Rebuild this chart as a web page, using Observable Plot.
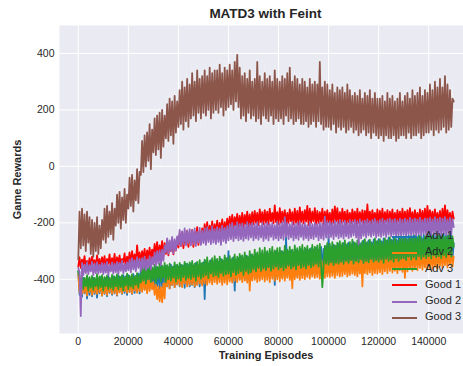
<!DOCTYPE html>
<html>
<head>
<meta charset="utf-8">
<script src="https://cdn.jsdelivr.net/npm/d3@7"></script>
<script src="https://cdn.jsdelivr.net/npm/@observablehq/plot@0.6"></script>
<style>
  html, body { margin: 0; padding: 0; background: #ffffff; overflow: hidden; }
  #wrap { position: relative; width: 472px; height: 366px; font-family: "Liberation Sans", Arial, sans-serif; color: #262626; }
  #title { height: 25px; box-sizing: border-box; padding-left: 59px; text-align: center; font-weight: bold; font-size: 13.5px; line-height: 28px; }
  #chart svg { display: block; }
  #legend { position: absolute; left: 390px; top: 228px; font-size: 11px; }
  .lg { position: relative; height: 16.3px; }
  .lg span.ln { position: absolute; left: 2px; top: 7.5px; width: 25px; height: 0; border-top: 2px solid; }
  .lg span.tx { position: absolute; left: 35px; top: 1px; white-space: nowrap; }
</style>
</head>
<body>
<div id="wrap">
  <div id="title">MATD3 with Feint</div>
  <div id="chart"></div>
  <div id="legend"></div>
</div>
<script>
const chartTitle = "MATD3 with Feint";
const xLabel = "Training Episodes";
const yLabel = "Game Rewards";
const seriesNames = ["Adv 1", "Adv 2", "Adv 3", "Good 1", "Good 2", "Good 3"];
const seriesColors = ["#1f77b4", "#ff7f0e", "#2ca02c", "#ff0000", "#9467bd", "#8c564b"];
const xTicks = [0, 20000, 40000, 60000, 80000, 100000, 120000, 140000];
const yTicks = [-400, -200, 0, 200, 400];
const episodeStep = 500; // one sample per 500 episodes, 0 .. 150000
const bandHalfWidth = [18, 20, 18, 16, 16, 45];

const adv1 = [
-372,-455,-400,-462,-395,-450,-405,-468,-398,-455,
-402,-460,-395,-452,-405,-465,-398,-450,-392,-458,
-400,-452,-395,-460,-388,-448,-398,-455,-390,-450,
-395,-458,-388,-445,-392,-452,-385,-448,-390,-455,
-385,-445,-392,-452,-382,-448,-388,-442,-380,-450,
-360,-428,-352,-435,-365,-425,-355,-432,-358,-420,
-362,-430,-355,-425,-360,-435,-350,-428,-358,-422,
-352,-425,-358,-432,-348,-420,-355,-428,-350,-418,
-355,-425,-348,-420,-352,-430,-345,-418,-350,-425,
-345,-420,-352,-428,-342,-418,-350,-425,-345,-415,
-340,-470,-335,-410,-345,-402,-332,-408,-340,-398,
-330,-405,-338,-398,-328,-410,-335,-400,-325,-402,
-300,-398,-330,-405,-322,-440,-330,-395,-325,-400,
-318,-395,-325,-402,-315,-390,-322,-398,-312,-392,
-320,-395,-310,-390,-318,-398,-308,-385,-315,-392,
-305,-388,-312,-395,-302,-385,-308,-420,-300,-390,
-308,-385,-300,-392,-305,-382,-250,-388,-302,-380,
-298,-385,-305,-378,-295,-388,-302,-380,-292,-385,
-300,-378,-292,-385,-298,-375,-290,-382,-295,-372,
-288,-380,-295,-372,-285,-378,-292,-370,-282,-376,
-245,-368,-285,-375,-278,-362,-282,-370,-275,-360,
-280,-365,-272,-358,-278,-368,-270,-355,-276,-362,
-268,-355,-275,-362,-265,-350,-272,-358,-262,-352,
-270,-356,-262,-348,-268,-355,-260,-345,-266,-352,
-258,-348,-265,-342,-255,-350,-262,-345,-252,-340,
-260,-345,-252,-338,-258,-348,-250,-340,-256,-335,
-248,-342,-255,-336,-246,-345,-252,-332,-244,-340,
-252,-335,-245,-342,-250,-330,-242,-338,-248,-332,
-240,-335,-248,-328,-238,-336,-245,-325,-240,-332,
-246,-326,-238,-334,-244,-322,-236,-330,-242,-325,
-272];
const adv2 = [
-380,-445,-405,-452,-410,-448,-402,-458,-412,-445,
-405,-455,-410,-448,-400,-452,-412,-445,-405,-458,
-408,-450,-402,-455,-410,-445,-398,-452,-405,-448,
-400,-455,-408,-446,-398,-450,-405,-442,-395,-448,
-402,-445,-395,-450,-400,-440,-392,-448,-398,-442,
-395,-445,-390,-438,-398,-450,-388,-442,-395,-436,
-410,-455,-420,-470,-425,-478,-428,-482,-415,-468,
-372,-425,-365,-432,-370,-420,-362,-428,-368,-418,
-365,-422,-360,-428,-368,-415,-358,-425,-362,-420,
-358,-418,-365,-425,-355,-420,-362,-415,-352,-422,
-360,-415,-352,-420,-358,-412,-350,-418,-355,-410,
-352,-416,-358,-410,-348,-420,-355,-412,-350,-418,
-348,-408,-355,-412,-345,-405,-352,-410,-345,-402,
-352,-410,-345,-405,-350,-412,-342,-440,-348,-405,
-345,-402,-350,-410,-342,-405,-348,-400,-340,-408,
-348,-402,-340,-410,-345,-398,-338,-405,-342,-400,
-340,-408,-345,-398,-338,-405,-342,-395,-335,-402,
-342,-432,-336,-400,-340,-395,-332,-402,-338,-396,
-335,-400,-340,-392,-332,-398,-338,-390,-330,-395,
-336,-392,-328,-398,-334,-388,-330,-395,-326,-390,
-330,-392,-325,-388,-332,-395,-322,-385,-328,-390,
-325,-388,-330,-382,-322,-390,-328,-385,-320,-380,
-328,-385,-320,-390,-325,-380,-318,-425,-322,-378,
-318,-382,-325,-376,-315,-385,-322,-378,-312,-380,
-320,-375,-312,-382,-318,-372,-310,-378,-315,-370,
-310,-376,-316,-370,-308,-378,-312,-368,-305,-374,
-312,-395,-305,-372,-310,-365,-302,-370,-308,-362,
-302,-368,-308,-360,-300,-366,-305,-358,-298,-364,
-305,-360,-298,-366,-302,-355,-296,-362,-300,-352,
-296,-360,-300,-350,-294,-358,-298,-348,-292,-355,
-320];
const adv3 = [
-370,-392,-428,-388,-435,-395,-425,-385,-440,-392,
-430,-388,-438,-395,-425,-382,-435,-390,-428,-385,
-440,-392,-425,-386,-435,-395,-430,-384,-438,-390,
-425,-382,-436,-390,-428,-385,-440,-392,-422,-380,
-435,-388,-426,-382,-432,-390,-420,-378,-430,-385,
-412,-360,-405,-352,-415,-365,-400,-350,-410,-358,
-402,-348,-412,-355,-398,-345,-408,-352,-395,-342,
-410,-350,-400,-345,-405,-355,-395,-340,-408,-348,
-398,-342,-405,-350,-392,-338,-402,-345,-395,-340,
-400,-335,-392,-345,-405,-338,-390,-332,-398,-342,
-392,-330,-385,-322,-395,-335,-380,-325,-390,-318,
-385,-328,-392,-320,-378,-330,-388,-315,-382,-325,
-380,-318,-390,-325,-375,-312,-385,-320,-378,-310,
-372,-315,-385,-305,-370,-318,-380,-300,-375,-312,
-365,-295,-372,-305,-360,-290,-370,-298,-362,-288,
-368,-300,-358,-292,-370,-285,-362,-298,-355,-290,
-365,-288,-358,-300,-368,-282,-360,-295,-352,-285,
-362,-295,-355,-280,-365,-290,-350,-285,-360,-278,
-355,-288,-362,-282,-350,-292,-358,-278,-352,-285,
-345,-280,-355,-275,-348,-428,-352,-282,-345,-272,
-348,-275,-340,-268,-350,-280,-342,-270,-345,-265,
-338,-272,-345,-262,-335,-275,-342,-268,-332,-260,
-345,-270,-335,-262,-340,-275,-330,-265,-342,-258,
-335,-268,-340,-260,-328,-272,-338,-255,-332,-265,
-338,-258,-330,-268,-342,-255,-328,-262,-335,-252,
-330,-262,-338,-255,-325,-265,-335,-250,-328,-258,
-325,-252,-332,-260,-320,-248,-330,-255,-322,-245,
-330,-252,-318,-245,-328,-258,-320,-248,-325,-242,
-318,-250,-326,-245,-315,-255,-322,-240,-318,-248,
-325,-242,-315,-250,-322,-245,-312,-238,-320,-248,
-285];
const good1 = [
-355,-322,-360,-330,-348,-318,-362,-335,-352,-325,
-358,-320,-345,-332,-362,-315,-350,-328,-358,-322,
-348,-318,-360,-328,-345,-312,-355,-325,-350,-310,
-358,-322,-345,-315,-352,-328,-340,-308,-355,-320,
-342,-305,-348,-300,-338,-312,-345,-280,-335,-305,
-342,-300,-330,-292,-345,-298,-328,-288,-338,-295,
-320,-275,-315,-268,-322,-280,-305,-265,-318,-272,
-310,-262,-315,-270,-300,-258,-312,-265,-298,-255,
-288,-240,-282,-232,-290,-245,-275,-228,-285,-238,
-272,-225,-285,-232,-268,-215,-278,-230,-262,-220,
-250,-205,-245,-198,-252,-210,-240,-195,-248,-205,
-238,-192,-245,-200,-232,-188,-240,-198,-228,-185,
-220,-178,-215,-172,-222,-180,-210,-168,-218,-175,
-212,-165,-218,-172,-205,-160,-215,-170,-208,-162,
-205,-158,-200,-165,-208,-152,-198,-162,-205,-155,
-200,-160,-206,-150,-195,-165,-202,-138,-198,-162,
-205,-148,-200,-160,-196,-155,-208,-165,-200,-152,
-195,-162,-205,-150,-200,-158,-206,-145,-198,-160,
-202,-155,-196,-140,-208,-150,-200,-160,-195,-148,
-205,-158,-200,-162,-196,-150,-206,-160,-200,-155,
-198,-165,-205,-152,-200,-142,-195,-148,-204,-162,
-200,-150,-196,-160,-206,-155,-198,-165,-202,-152,
-195,-160,-205,-150,-200,-162,-196,-155,-206,-158,
-200,-135,-198,-160,-204,-155,-195,-165,-200,-152,
-206,-158,-198,-150,-202,-162,-196,-155,-205,-160,
-198,-152,-204,-165,-200,-155,-195,-160,-206,-150,
-200,-160,-196,-155,-205,-148,-198,-162,-202,-155,
-196,-165,-205,-152,-200,-158,-198,-150,-204,-140,
-200,-155,-196,-160,-206,-152,-198,-165,-200,-158,
-204,-150,-198,-138,-200,-155,-196,-165,-205,-160,
-185];
const good2 = [
-360,-375,-530,-342,-385,-348,-378,-340,-382,-350,
-372,-338,-385,-345,-378,-340,-380,-348,-375,-342,
-382,-345,-376,-338,-385,-350,-372,-340,-380,-345,
-375,-338,-382,-342,-370,-335,-378,-345,-372,-340,
-368,-330,-375,-325,-365,-332,-372,-322,-360,-328,
-370,-325,-362,-320,-368,-330,-358,-318,-365,-322,
-348,-305,-352,-300,-345,-298,-350,-295,-335,-280,
-305,-255,-310,-262,-300,-250,-308,-258,-298,-248,
-278,-225,-282,-230,-275,-220,-280,-228,-272,-222,
-280,-226,-275,-220,-282,-232,-270,-218,-278,-228,
-272,-220,-278,-215,-268,-225,-276,-212,-270,-222,
-275,-215,-268,-220,-278,-210,-265,-218,-272,-212,
-262,-205,-258,-200,-265,-210,-255,-198,-262,-205,
-258,-202,-264,-208,-255,-198,-260,-205,-252,-200,
-262,-205,-255,-198,-260,-210,-252,-200,-264,-205,
-256,-198,-262,-205,-250,-200,-260,-208,-255,-196,
-262,-204,-255,-198,-260,-180,-250,-200,-258,-205,
-252,-198,-262,-205,-255,-200,-260,-196,-250,-205,
-260,-200,-254,-208,-262,-198,-255,-205,-258,-200,
-250,-205,-262,-198,-255,-202,-260,-178,-252,-196,
-255,-195,-250,-200,-258,-192,-248,-198,-255,-190,
-250,-198,-256,-192,-248,-200,-254,-190,-250,-196,
-245,-190,-252,-196,-276,-188,-255,-195,-246,-192,
-252,-188,-245,-195,-250,-190,-244,-186,-252,-194,
-246,-190,-250,-185,-244,-192,-250,-188,-242,-185,
-248,-190,-242,-186,-250,-192,-244,-185,-248,-190,
-242,-185,-248,-190,-240,-182,-246,-188,-240,-184,
-246,-188,-240,-182,-245,-190,-238,-184,-244,-186,
-240,-182,-245,-188,-238,-180,-244,-186,-240,-182,
-245,-185,-238,-180,-244,-188,-240,-182,-242,-186,
-215];
const good3 = [
-330,-160,-290,-150,-280,-170,-300,-160,-270,-180,
-310,-190,-320,-200,-300,-180,-310,-210,-290,-190,
-260,-150,-270,-140,-250,-160,-240,-130,-260,-150,
-210,-100,-200,-90,-220,-110,-190,-80,-200,-100,
-150,-40,-140,-30,-160,-50,-120,-10,-130,-20,
-30,90,-20,110,0,120,20,150,-10,130,
50,170,40,180,60,190,30,200,70,180,
100,220,90,240,110,230,80,250,120,230,
140,270,150,300,130,280,160,310,140,290,
170,330,180,300,160,340,190,310,170,320,
190,340,180,320,200,350,170,330,190,340,
200,340,190,360,210,330,180,350,200,340,
210,360,220,340,200,370,230,395,210,350,
170,320,180,330,160,310,190,340,170,300,
180,310,160,370,170,320,150,300,180,330,
170,310,160,320,180,300,150,340,170,310,
160,300,170,320,150,310,180,330,160,350,
170,300,150,320,160,310,170,290,150,310,
150,300,160,280,140,310,150,290,160,300,
140,290,160,370,150,280,130,300,140,290,
140,270,130,290,150,260,120,280,140,270,
130,280,140,260,120,290,130,270,140,250,
120,260,130,250,110,270,120,240,130,260,
110,250,120,270,100,240,120,260,110,240,
100,240,110,250,90,230,110,260,100,240,
100,250,110,230,90,240,100,260,110,230,
110,250,100,260,120,240,100,270,110,250,
110,260,120,280,100,250,110,270,120,260,
120,290,130,270,110,300,130,280,120,310,
130,280,140,320,120,290,130,270,140,240,
230];
const seriesValues = [adv1, adv2, adv3, good1, good2, good3];

const rows = [];
seriesNames.forEach((name, s) => {
  seriesValues[s].forEach((v, i) => {
    rows.push({series: name, episode: i * episodeStep, reward: v,
               lo: v - bandHalfWidth[s], hi: v + bandHalfWidth[s]});
  });
});

const chart = Plot.plot({
  width: 472,
  height: 341,
  marginTop: 0,
  marginLeft: 59,
  marginRight: 0,
  marginBottom: 33,
  style: {fontFamily: "'Liberation Sans', Arial, sans-serif", fontSize: "10.5px", color: "#262626", background: "transparent", overflow: "visible"},
  x: {domain: [-7500, 157500]},
  y: {domain: [-592, 499]},
  color: {domain: seriesNames, range: seriesColors},
  marks: [
    Plot.frame({fill: "#eaeaf2", stroke: null}),
    Plot.gridX(xTicks, {stroke: "#ffffff", strokeOpacity: 1, strokeWidth: 1}),
    Plot.gridY(yTicks, {stroke: "#ffffff", strokeOpacity: 1, strokeWidth: 1}),
    Plot.areaY(rows, {x: "episode", y1: "lo", y2: "hi", z: "series", fill: "#ffffff", fillOpacity: 0.3}),
    Plot.lineY(rows, {x: "episode", y: "reward", z: "series", stroke: "series", strokeWidth: 1.8}),
    Plot.axisX(xTicks, {tickSize: 0, tickPadding: 4, label: null, tickFormat: d => String(d)}),
    Plot.axisY(yTicks, {tickSize: 0, tickPadding: 5, label: null, tickFormat: d => String(d)}),
    Plot.text([xLabel], {frameAnchor: "bottom", dy: 25, fontWeight: "bold", fontSize: 11, fill: "#262626"}),
    Plot.text([yLabel], {frameAnchor: "left", dx: -42, rotate: -90, textAnchor: "middle", fontWeight: "bold", fontSize: 11, fill: "#262626"})
  ]
});
document.getElementById("chart").appendChild(chart);

const legend = document.getElementById("legend");
seriesNames.forEach((name, s) => {
  const row = document.createElement("div");
  row.className = "lg";
  row.innerHTML = `<span class="ln" style="border-top-color:${seriesColors[s]}"></span><span class="tx">${name}</span>`;
  legend.appendChild(row);
});
</script>
</body>
</html>
